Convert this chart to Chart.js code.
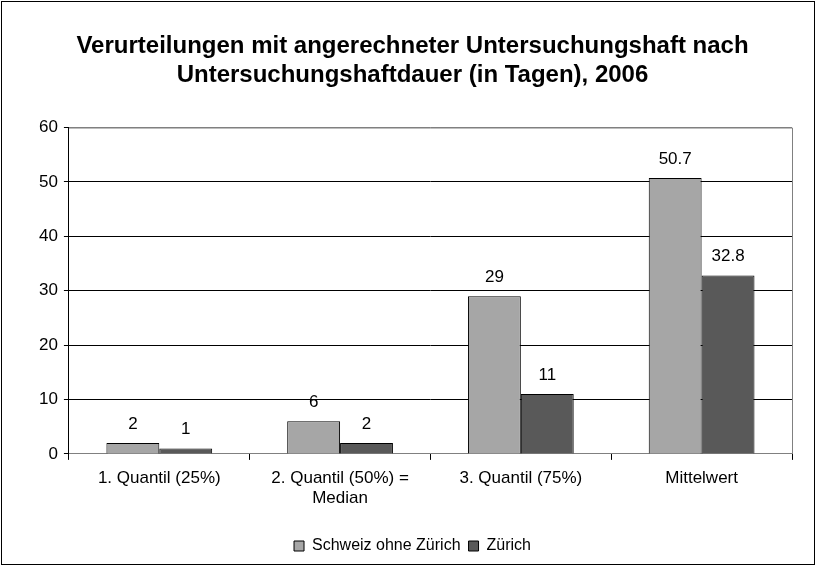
<!DOCTYPE html>
<html>
<head>
<meta charset="utf-8">
<script src="https://cdn.jsdelivr.net/npm/chart.js@4/dist/chart.umd.min.js"></script>
<style>
  html, body { margin: 0; padding: 0; background: #fff; }
  #wrap { width: 816px; height: 566px; position: relative; }
</style>
</head>
<body>
<div id="wrap"><canvas id="chart" width="816" height="566"></canvas></div>
<script>
var categories = ['1. Quantil (25%)', ['2. Quantil (50%) =', 'Median'], '3. Quantil (75%)', 'Mittelwert'];
var schweizOhneZuerich = [2, 6, 29, 50.7];
var zuerich = [1, 2, 11, 32.8];
var yTicks = [0, 10, 20, 30, 40, 50, 60];

var FONT = "'Liberation Sans', Arial, sans-serif";

// frame around the whole picture + gray plot area border
var framePlugin = {
    id: 'frame',
    beforeDraw: function (chart) {
        var ctx = chart.ctx;
        ctx.save();
        ctx.fillStyle = '#fff';
        ctx.fillRect(0, 0, chart.width, chart.height);
        ctx.strokeStyle = '#000';
        ctx.lineWidth = 1;
        ctx.strokeRect(1.5, 1.5, chart.width - 3, chart.height - 3);
        ctx.restore();
    },
    afterDraw: function (chart) {
        var a = chart.chartArea;
        var ctx = chart.ctx;
        ctx.save();
        ctx.strokeStyle = '#808080';
        ctx.lineWidth = 1;
        ctx.beginPath();
        ctx.moveTo(a.left, a.top + 0.5);
        ctx.lineTo(a.right + 0.5, a.top + 0.5);
        ctx.lineTo(a.right + 0.5, a.bottom);
        ctx.stroke();
        ctx.restore();
    }
};

// value labels above bars
var valueLabels = {
    id: 'valueLabels',
    afterDatasetsDraw: function (chart) {
        var ctx = chart.ctx;
        ctx.save();
        ctx.font = '17px ' + FONT;
        ctx.fillStyle = '#000';
        ctx.textAlign = 'center';
        ctx.textBaseline = 'middle';
        chart.data.datasets.forEach(function (ds, i) {
            chart.getDatasetMeta(i).data.forEach(function (bar, j) {
                ctx.fillText(String(ds.data[j]), bar.x, bar.y - 19);
            });
        });
        ctx.restore();
    }
};

new Chart(document.getElementById('chart'), {
    type: 'bar',
    data: {
        labels: categories,
        datasets: [
            {
                label: 'Schweiz ohne Zürich',
                data: schweizOhneZuerich,
                backgroundColor: '#a6a6a6',
                borderColor: '#000',
                borderWidth: 1,
                categoryPercentage: 0.585,
                barPercentage: 1.0
            },
            {
                label: 'Zürich',
                data: zuerich,
                backgroundColor: '#595959',
                borderColor: '#000',
                borderWidth: 1,
                categoryPercentage: 0.585,
                barPercentage: 1.0
            }
        ]
    },
    options: {
        responsive: false,
        animation: false,
        layout: { padding: { left: 33, right: 24, top: 10, bottom: 2 } },
        plugins: {
            title: {
                display: true,
                text: ['Verurteilungen mit angerechneter Untersuchungshaft nach', 'Untersuchungshaftdauer (in Tagen), 2006'],
                color: '#000',
                font: { family: FONT, size: 24, weight: 'bold', lineHeight: 1.24 },
                padding: { top: 21, bottom: 37 }
            },
            legend: {
                position: 'bottom',
                labels: {
                    color: '#000',
                    font: { family: FONT, size: 16 },
                    boxWidth: 10,
                    boxHeight: 10,
                    padding: 8
                }
            },
            tooltip: { enabled: false }
        },
        scales: {
            x: {
                offset: true,
                grid: {
                    offset: true,
                    drawOnChartArea: false,
                    drawTicks: true,
                    tickLength: 6,
                    color: '#000'
                },
                border: { display: true, color: '#808080' },
                ticks: {
                    color: '#000',
                    font: { family: FONT, size: 17, lineHeight: 1.18 },
                    padding: 8,
                    maxRotation: 0
                },
                afterFit: function (scale) {
                    scale.height += 14;
                }
            },
            y: {
                min: 0,
                max: 60,
                afterBuildTicks: function (scale) {
                    scale.ticks = yTicks.map(function (v) { return { value: v }; });
                },
                grid: {
                    color: function (c) {
                        return (c.tick && (c.tick.value === 60 || c.tick.value === 0)) ? '#808080' : '#000';
                    },
                    drawTicks: true,
                    tickLength: 5,
                    tickColor: '#000'
                },
                border: { display: true, color: '#000' },
                ticks: {
                    color: '#000',
                    font: { family: FONT, size: 17 },
                    padding: 6
                }
            }
        }
    },
    plugins: [framePlugin, valueLabels]
});
</script>
</body>
</html>
